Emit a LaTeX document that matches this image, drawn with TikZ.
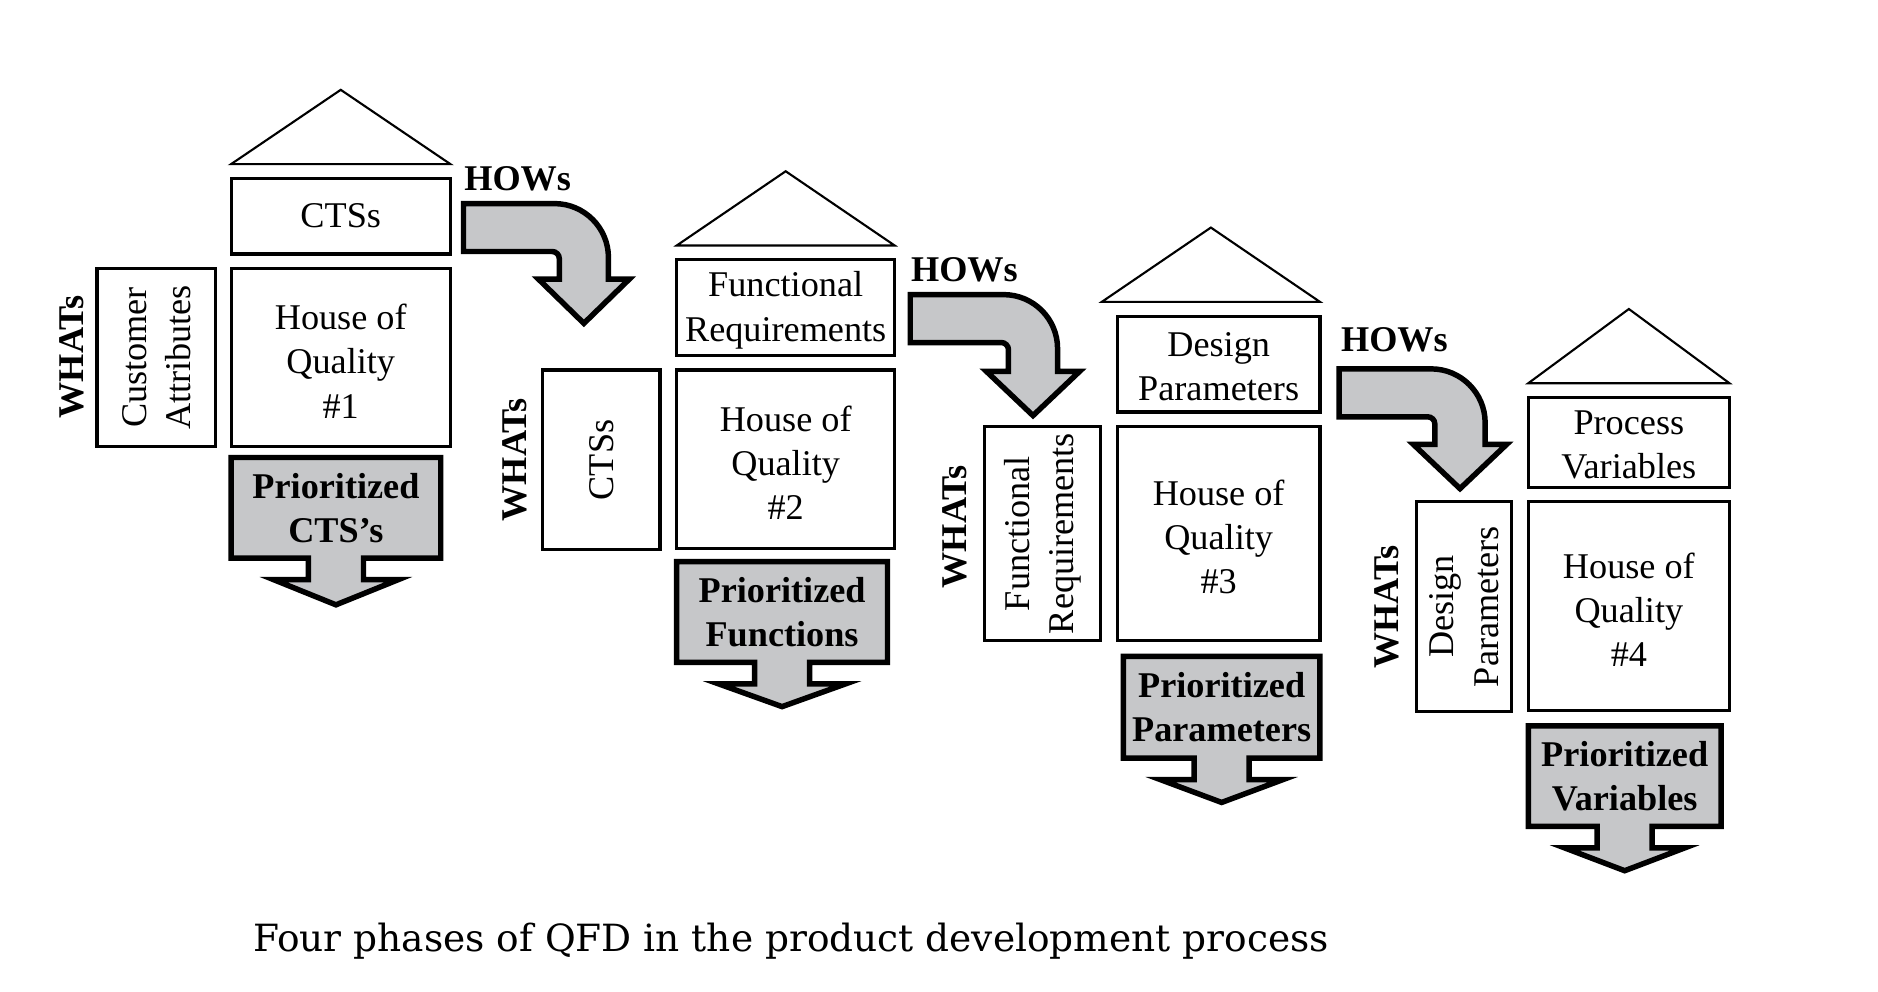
\documentclass[tikz,border=0pt]{standalone}
\usepackage{fontspec}
\setmainfont{Liberation Serif}
\newfontfamily\capfont{DejaVu Serif}
\definecolor{pgray}{RGB}{198,199,201}
\tikzset{
  box/.style={draw, line width=0.75pt, inner sep=0pt},
  boxtext/.style={align=center, inner sep=0pt, font=\fontsize{8.6}{10.5}\selectfont},
  roof/.style={draw, line width=0.5pt, line join=miter},
  prifill/.style={fill=pgray, draw, line width=1.3pt, line join=miter},
  pritext/.style={font=\bfseries\fontsize{8.6}{10.5}\selectfont, align=center, inner sep=0pt},
  whats/.style={font=\bfseries\fontsize{8.6}{10.5}\selectfont, rotate=90, inner sep=0pt},
  hows/.style={font=\bfseries\fontsize{8.6}{10.5}\selectfont, inner sep=0pt, anchor=west},
  captext/.style={font=\capfont\fontsize{8.9}{11}\selectfont, inner sep=0pt},
}
% #1 x1, #2 y1, #3 x2, #4 y2, #5 stem half, #6 wing y, #7 wing half, #8 tip y
\newcommand\prishape[8]{%
  \path[prifill] (#1,#2) -- (#3,#2) -- (#3,#4) -- ({(#1+#3)/2+#5},#4) -- ({(#1+#3)/2+#5},#6)
    -- ({(#1+#3)/2+#7},#6) -- ({(#1+#3)/2},#8) -- ({(#1+#3)/2-#7},#6) -- ({(#1+#3)/2-#5},#6)
    -- ({(#1+#3)/2-#5},#4) -- (#1,#4) -- cycle;}
% #1 L, #2 T, #3 B, #4 I, #5 O, #6 W, #7 wing half, #8 tip x, #9 tip y
\newcommand\howarrow[9]{%
  \path[prifill] (#1,#2) -- ({#5-45},#2) .. controls ({#5-20.2},#2) and (#5,{#2+20.2}) .. (#5,{#2+45})
    -- (#5,#6) -- ({#8+#7},#6) -- (#8,#9) -- ({#8-#7},#6) -- (#4,#6) -- (#4,{#3+6})
    .. controls (#4,{#3+2.7}) and ({#4-2.7},#3) .. ({#4-6},#3) -- (#1,#3) -- cycle;}
\begin{document}
\begin{tikzpicture}[x=0.01cm, y=-0.01cm]
\useasboundingbox[fill=white] (0,0) rectangle (1568,828);

% ---------- House 1
\draw[roof] (193,137) -- (284.5,75) -- (376,137) -- cycle;
\node[box, minimum width=1.83cm, minimum height=0.63cm] (h1top) at (284.5,180.5) {};
\node[boxtext] (h1toptext) at (h1top.center) {CTSs};
\node[box, minimum width=1.83cm, minimum height=1.49cm] (h1hoq) at (284.5,298.5) {};
\node[boxtext] (h1hoqtext) at ([yshift=-0.03cm]h1hoq.center) {House of\\Quality\\\#1};
\node[box, minimum width=0.99cm, minimum height=1.49cm] (h1what) at (130.5,298.5) {};
\node[boxtext, rotate=90] (h1whattext) at (h1what.center) {Customer\\Attributes};
\node[whats] (h1whats) at (60,298) {WHATs};
\prishape{193}{382}{368}{466}{23}{484}{52}{505}
\node[pritext] (h1pri) at (280.5,424) {Prioritized\\CTS’s};

% ---------- House 2
\draw[roof] (565,205) -- (656,143) -- (747,205) -- cycle;
\node[box, minimum width=1.82cm, minimum height=0.80cm] (h2top) at (656,257) {};
\node[boxtext] (h2toptext) at ([yshift=-0.02cm]h2top.center) {Functional\\Requirements};
\node[box, minimum width=1.82cm, minimum height=1.49cm] (h2hoq) at (656,383.5) {};
\node[boxtext] (h2hoqtext) at ([yshift=-0.03cm]h2hoq.center) {House of\\Quality\\\#2};
\node[box, minimum width=0.98cm, minimum height=1.50cm] (h2what) at (502,384) {};
\node[boxtext, rotate=90] (h2whattext) at (h2what.center) {CTSs};
\node[whats] (h2whats) at (430,384) {WHATs};
\prishape{565}{469}{741}{553}{23}{571}{53}{590}
\node[pritext] (h2pri) at (653,511) {Prioritized\\Functions};

% ---------- House 3
\draw[roof] (920,252) -- (1011,190) -- (1102,252) -- cycle;
\node[box, minimum width=1.69cm, minimum height=0.80cm] (h3top) at (1017.5,304) {};
\node[boxtext] (h3toptext) at ([yshift=-0.02cm]h3top.center) {Design\\Parameters};
\node[box, minimum width=1.69cm, minimum height=1.79cm] (h3hoq) at (1017.5,445.5) {};
\node[boxtext] (h3hoqtext) at ([yshift=-0.03cm]h3hoq.center) {House of\\Quality\\\#3};
\node[box, minimum width=0.97cm, minimum height=1.79cm] (h3what) at (870.5,445.5) {};
\node[boxtext, rotate=90] (h3whattext) at (h3what.center) {Functional\\Requirements};
\node[whats] (h3whats) at (797,440) {WHATs};
\prishape{938}{548}{1102}{633}{23}{651}{51}{670}
\node[pritext] (h3pri) at (1020,590.5) {Prioritized\\Parameters};

% ---------- House 4
\draw[roof] (1276,320) -- (1360,258) -- (1444,320) -- cycle;
\node[box, minimum width=1.68cm, minimum height=0.75cm] (h4top) at (1360,369.5) {};
\node[boxtext] (h4toptext) at ([yshift=-0.02cm]h4top.center) {Process\\Variables};
\node[box, minimum width=1.68cm, minimum height=1.74cm] (h4hoq) at (1360,506) {};
\node[boxtext] (h4hoqtext) at ([yshift=-0.03cm]h4hoq.center) {House of\\Quality\\\#4};
\node[box, minimum width=0.79cm, minimum height=1.75cm] (h4what) at (1222.5,506.5) {};
\node[boxtext, rotate=90] (h4whattext) at (h4what.center) {Design\\Parameters};
\node[whats] (h4whats) at (1158,507) {WHATs};
\prishape{1276}{606}{1437}{690}{23}{708}{50}{727}
\node[pritext] (h4pri) at (1356.5,648) {Prioritized\\Variables};

% ---------- HOWs arrows
\howarrow{387}{170}{210}{467}{508}{233}{38}{487.5}{270}
\node[hows] (hows1) at (387,149) {HOWs};
\howarrow{760}{246}{286}{842}{883}{310}{39}{862.5}{347}
\node[hows] (hows2) at (760,225) {HOWs};
\howarrow{1118}{308}{348}{1198}{1240}{371}{39}{1219}{408}
\node[hows] (hows3) at (1119,284) {HOWs};

% ---------- Caption
\node[captext] (caption) at (660.5,786) {Four phases of QFD in the product development process};
\end{tikzpicture}
\end{document}
